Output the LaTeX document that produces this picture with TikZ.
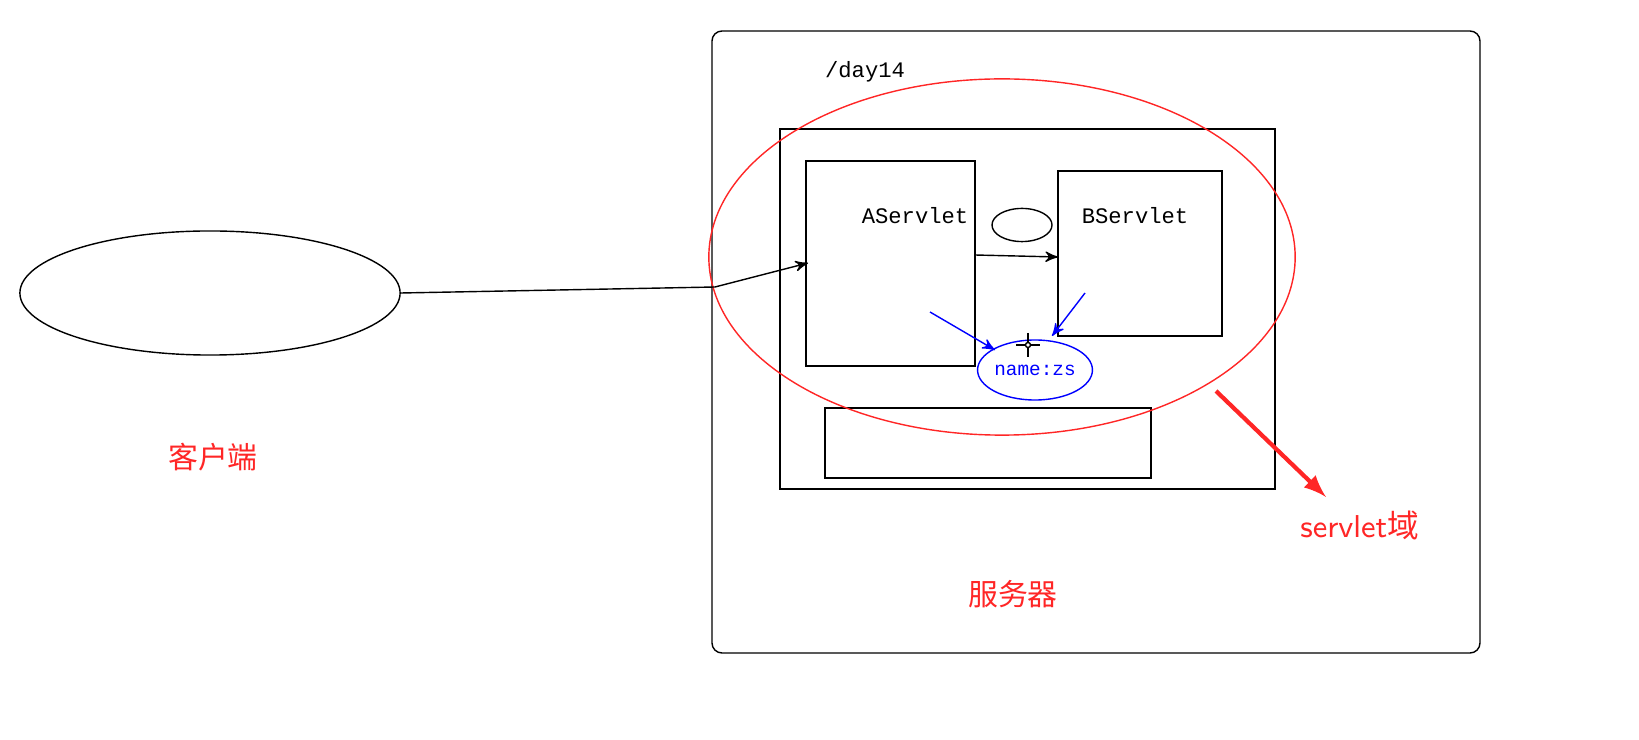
\documentclass[tikz,border=0pt]{standalone}
\usepackage{fontspec}
\setmonofont{Liberation Mono}
\newfontfamily\cjk{Noto Sans CJK SC}
\usepackage{tikz}
\usetikzlibrary{arrows, shapes.geometric, positioning}
\colorlet{colorScope}{red!85!white}
\colorlet{colorAttr}{blue}
\tikzset{box/.style={draw, thin, inner sep=0pt},
  label text/.style={font=\ttfamily\fontsize{6.3}{7}\selectfont},
  cn text/.style={font=\cjk\fontsize{8.5}{10}\selectfont, text=colorScope}}
\begin{document}
\begin{tikzpicture}[x=0.01cm, y=-0.01cm, >=stealth', thin]
\useasboundingbox (0,0) rectangle (1639,740);
\node[draw, ellipse, minimum width=3.8cm, minimum height=1.24cm] (client) at (210,293) {};
\draw[rounded corners=0.1cm] (712,31) rectangle (1480,653);
\node[box, minimum width=4.95cm, minimum height=3.6cm] (app) at (1027.5,309) {};
\node[box, minimum width=1.69cm, minimum height=2.05cm] (A) at (890.5,263.5) {};
\node[box, minimum width=1.64cm, minimum height=1.65cm] (B) at (1140,253.5) {};
\node[box, minimum width=3.26cm, minimum height=0.7cm] (ctx) at (988,443) {};
\node[draw, ellipse, minimum width=0.6cm, minimum height=0.28cm] (req) at (1022,225) {};
\node[label text] at (865,72) {/day14};
\node[label text] at (915,216) {AServlet};
\node[label text] at (1135,216) {BServlet};
\node[draw=colorAttr, ellipse, minimum width=1cm, minimum height=0.6cm, label text, font=\ttfamily\fontsize{5.5}{6}\selectfont, text=colorAttr, inner sep=0pt] (attr) at (1035,370) {name:zs};
\node[draw=colorScope, ellipse, minimum width=5.86cm, minimum height=3.56cm] (scope) at (1002,257) {};
\coordinate (mid) at (715,287);
\coordinate (aIn) at (808,263);
\draw[->] (client.east) -- (mid) -- (aIn);
\draw[->] (975,255) -- (1058,257);
\draw[->, colorAttr] (930,312) -- (995,350);
\draw[->, colorAttr] (1085,293) -- (1052,336);
% cursor
\draw (1016,345) -- (1040,345) (1028,333) -- (1028,357);
\draw[fill=white] (1028,345) circle (0.025cm);
\coordinate (tip) at (1326,497);
\draw[->, colorScope, line width=1.2pt, >=latex] (1216,391) -- (tip);
\node[cn text, font=\sffamily\fontsize{9}{10}\selectfont, anchor=west] (name) at (1288,525) {servlet{\cjk 域}};
\node[cn text] (clientText) at (213,457) {客户端};
\node[cn text] (serverText) at (1013,594) {服务器};
\end{tikzpicture}
\end{document}
